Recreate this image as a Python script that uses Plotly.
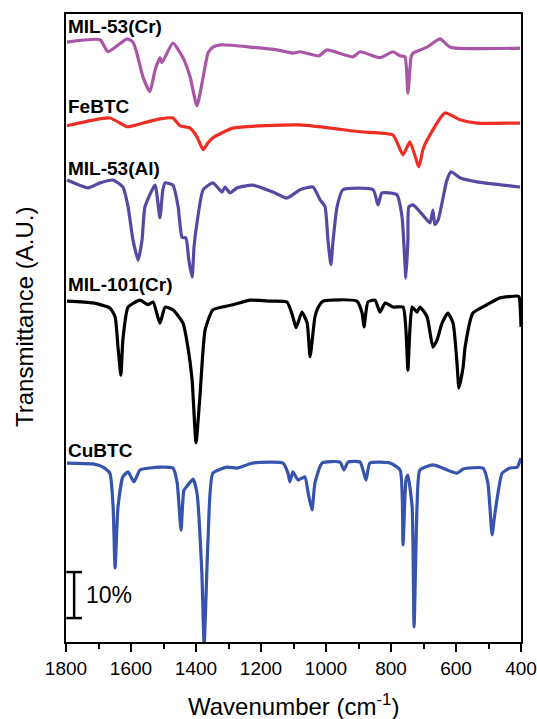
import plotly.graph_objects as go

# ---------------- data (wavenumber cm^-1, stacked transmittance %) ----------------
mil53cr_wn = [1797, 1695, 1671, 1612, 1594, 1582, 1563, 1542, 1526, 1511, 1505, 1471, 1440, 1418,
              1397, 1378, 1363, 1348, 1325, 1151, 1102, 1080, 1022, 997, 917, 895, 834, 794, 772,
              757, 748, 738, 732, 689, 649, 618, 403]
mil53cr_t = [130.4, 130.9, 128.3, 131.1, 130.4, 128.0, 122.8, 119.6, 124.3, 127.0, 125.9, 130.2, 127.0, 122.8,
             116.5, 122.8, 128.0, 129.3, 129.8, 128.7, 128.0, 128.3, 127.4, 128.7, 127.2, 128.3, 127.0, 128.3, 127.4,
             127.2, 119.3, 127.2, 128.0, 129.3, 131.1, 129.3, 129.1]

febtc_wn = [1797, 1665, 1612, 1563, 1511, 1471, 1449, 1418, 1397, 1378, 1363, 1348, 1286, 1080, 895,
            794, 763, 742, 714, 702, 689, 634, 588, 535, 403]
febtc_t = [112.2, 113.9, 112.0, 112.8, 113.7, 113.9, 112.2, 111.7, 109.8, 107.0, 108.5, 109.6, 111.7, 112.4, 110.9,
           110.2, 105.9, 108.7, 103.3, 107.0, 109.1, 115.0, 113.5, 112.8, 112.8]

mil53al_wn = [1797, 1732, 1695, 1655, 1625, 1609, 1594, 1578, 1566, 1557, 1526, 1511, 1502, 1495, 1471,
              1455, 1443, 1431, 1422, 1412, 1406, 1397, 1378, 1348, 1320, 1311, 1295, 1274, 1225, 1163,
              1120, 1080, 1040, 1018, 1003, 994, 985, 978, 966, 948, 855, 840, 828, 782, 766, 754,
              748, 745, 732, 702, 680, 671, 665, 655, 628, 615, 588, 535, 403]
mil53al_t = [100.4, 98.7, 99.8, 100.4, 98.9, 94.6, 87.4, 83.0, 87.4, 94.6, 99.3, 92.2, 98.3, 99.8, 99.3,
             94.6, 88.0, 87.8, 83.0, 79.3, 85.9, 91.1, 98.3, 99.8, 97.8, 98.9, 97.6, 98.7, 99.3, 97.8,
             96.5, 98.3, 98.9, 96.1, 94.6, 87.4, 82.0, 87.4, 94.6, 98.3, 98.3, 95.0, 97.6, 97.2, 92.4, 79.1,
             87.4, 94.6, 95.0, 92.8, 91.1, 93.9, 90.7, 91.7, 100.4, 102.2, 100.9, 100.0, 98.9]

mil101_wn = [1797, 1717, 1665, 1649, 1640, 1631, 1625, 1609, 1572, 1548, 1532, 1511, 1495, 1471, 1440,
             1425, 1412, 1400, 1388, 1372, 1348, 1286, 1234, 1172, 1120, 1102, 1092, 1074, 1058, 1049,
             1034, 1025, 1009, 905, 889, 883, 871, 849, 834, 818, 794, 763, 754, 748, 742, 735, 720,
             711, 689, 671, 658, 643, 625, 609, 597, 591, 578, 572, 548, 505, 465, 412, 406, 400]
mil101_t = [74.1, 73.7, 72.6, 70.7, 64.1, 58.0, 65.7, 72.8, 74.3, 73.3, 73.9, 69.3, 72.8, 72.2, 69.3,
            64.1, 57.0, 43.3, 53.3, 67.8, 72.2, 73.3, 74.3, 74.1, 73.9, 70.7, 68.3, 71.7, 69.3, 62.0,
            70.7, 72.6, 74.1, 74.1, 71.5, 68.5, 73.9, 74.3, 71.7, 73.7, 72.8, 72.8, 67.8, 59.1, 67.8, 72.8, 71.7,
            72.8, 70.7, 64.1, 65.7, 69.3, 71.5, 69.3, 60.7, 55.2, 59.8, 64.1, 71.5, 73.3, 74.8, 75.2, 75.0, 68.5]

cubtc_wn = [1797, 1717, 1686, 1665, 1655, 1649, 1640, 1625, 1609, 1591, 1572, 1511, 1471, 1458, 1446,
            1437, 1425, 1409, 1397, 1382, 1375, 1363, 1348, 1305, 1274, 1225, 1132, 1117, 1111, 1102,
            1086, 1065, 1055, 1043, 1034, 1012, 957, 945, 932, 895, 877, 865, 803, 772, 763, 754, 748,
            735, 729, 720, 711, 671, 597, 578, 517, 502, 489, 483, 474, 458, 434, 412, 400]
cubtc_t = [38.9, 38.7, 38.0, 36.7, 29.3, 16.1, 29.3, 35.9, 37.0, 34.8, 37.4, 38.0, 37.8, 34.6, 24.3,
           33.0, 34.1, 35.4, 32.4, 15.0, -0.5, 22.2, 36.7, 38.0, 37.8, 38.9, 38.9, 36.7, 34.8, 37.0,
           35.2, 35.9, 32.4, 28.7, 34.6, 38.9, 39.1, 37.4, 39.1, 39.1, 35.2, 38.9, 38.9, 37.4, 21.1, 35.2, 36.3,
           29.3, 3.3, 29.3, 37.4, 38.5, 36.7, 37.6, 37.8, 34.6, 23.3, 26.5, 30.9, 36.7, 37.8, 38.0, 40.0]

names = ["MIL-53(Cr)", "FeBTC", "MIL-53(Al)", "MIL-101(Cr)", "CuBTC"]
label_y = [133.7, 116.3, 103.0, 77.8, 41.7]
colors = ["#A956A6", "#EE2E24", "#5A47A3", "#000000", "#3653AE"]

scale_pct = 10
scale_base = 5.2
scale_x = 1775
scale_cap = 24

x_ticks = [1800, 1600, 1400, 1200, 1000, 800, 600, 400]

# ---------------- figure ----------------
series = [(mil53cr_wn, mil53cr_t), (febtc_wn, febtc_t), (mil53al_wn, mil53al_t),
          (mil101_wn, mil101_t), (cubtc_wn, cubtc_t)]

fig = go.Figure()
for (wn, t), name, col in zip(series, names, colors):
    fig.add_trace(go.Scatter(x=wn, y=t, mode="lines", name=name,
                             line=dict(color=col, width=3.2, shape="spline", smoothing=0.5),
                             showlegend=False))

# scale bar (I-beam)
top = scale_base + scale_pct
fig.add_trace(go.Scatter(
    x=[scale_x - scale_cap, scale_x + scale_cap, None, scale_x, scale_x, None,
       scale_x - scale_cap, scale_x + scale_cap],
    y=[top, top, None, top, scale_base, None, scale_base, scale_base],
    mode="lines", line=dict(color="black", width=2.5), showlegend=False, hoverinfo="skip"))

annotations = []
for name, ly in zip(names, label_y):
    annotations.append(dict(x=1799, y=ly, xref="x", yref="y", text="<b>%s</b>" % name,
                            showarrow=False, xanchor="left", yanchor="middle",
                            font=dict(family="Liberation Sans, Arial", size=19, color="black")))
annotations.append(dict(x=1746, y=scale_base + scale_pct / 2, xref="x", yref="y",
                        text="%d%%" % scale_pct, showarrow=False, xanchor="left", yanchor="middle",
                        font=dict(family="Liberation Sans, Arial", size=23, color="black")))
annotations.append(dict(x=0.5, y=-0.1003, xref="paper", yref="paper",
                        text="Wavenumber (cm<sup>-1</sup>)", showarrow=False,
                        xanchor="center", yanchor="middle",
                        font=dict(family="Liberation Sans, Arial", size=24, color="black")))
annotations.append(dict(x=-0.0923, y=0.5175, xref="paper", yref="paper",
                        text="Transmittance (A.U.)", showarrow=False, textangle=-90,
                        xanchor="center", yanchor="middle",
                        font=dict(family="Liberation Sans, Arial", size=24, color="black")))

fig.update_layout(
    width=537, height=719,
    margin=dict(l=66, r=16, t=14, b=77, pad=0, autoexpand=False),
    paper_bgcolor="white", plot_bgcolor="white",
    annotations=annotations,
    xaxis=dict(range=[1800, 400], tickvals=x_ticks, ticktext=[str(v) for v in x_ticks],
               automargin=False,
               ticks="outside", ticklen=8, tickwidth=1.5, tickcolor="black",
               minor=dict(dtick=100, ticks="outside", ticklen=5, tickwidth=1.5, tickcolor="black"),
               showline=True, linecolor="black", linewidth=1.5, mirror=True,
               showgrid=False, zeroline=False,
               tickfont=dict(family="Liberation Sans, Arial", size=19, color="black")),
    yaxis=dict(range=[0, 136.5], showticklabels=False, ticks="", automargin=False,
               showline=True, linecolor="black", linewidth=1.5, mirror=True,
               showgrid=False, zeroline=False),
)

fig.write_html("out.html")
